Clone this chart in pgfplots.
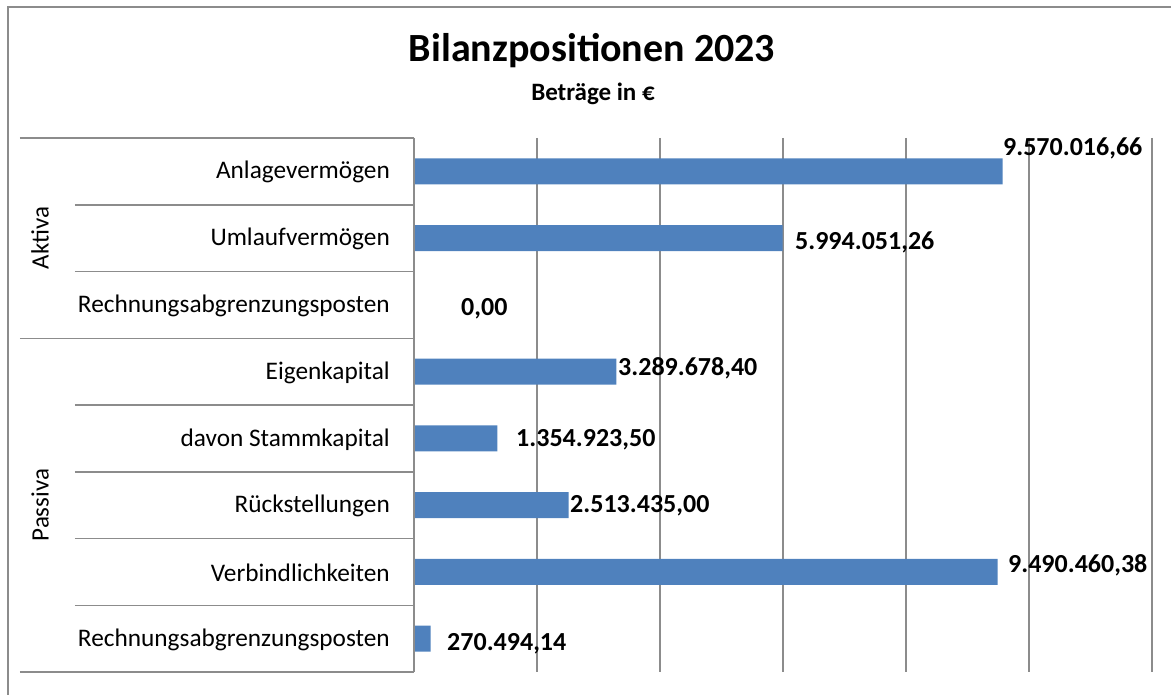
\documentclass[border=0pt]{standalone}
\usepackage{fontspec}
\setmainfont{Carlito}
\usepackage{pgfplots}
\usepackage{pgfplotstable}
\pgfplotsset{compat=1.18}
\definecolor{barblue}{HTML}{4F81BD}
\definecolor{gridgray}{HTML}{8C8C8C}

\pgfplotstableread{
y x
0 9570016.66
1 5994051.26
2 0
3 3289678.40
4 1354923.50
5 2513435.00
6 9490460.38
7 270494.14
}\bars

\pgfplotstableread{
x y label
9577000 -0.34 9.570.016,66
6195000 1.06 5.994.051,26
764000 2.06 0,00
3317000 2.95 3.289.678,40
1659000 4.02 1.354.923,50
2537000 5.01 2.513.435,00
9658000 5.90 9.490.460,38
537000 7.07 270.494,14
}\labels

\begin{document}
\begin{tikzpicture}[x=1pt,y=1pt]
\path[use as bounding box] (0,0) rectangle (1171,695);
\draw[gridgray, line width=1.5pt] (8,0) -- (8,688) -- (1175,688);
\node[font=\fontsize{40}{44}\selectfont\bfseries, anchor=base] at (592,633) {Bilanzpositionen 2023};
\node[font=\fontsize{25}{29}\selectfont\bfseries, anchor=base] at (593,594) {Beträge in €};
\begin{axis}[
  at={(414pt,23pt)}, anchor=south west,
  scale only axis, width=738pt, height=534pt,
  xmin=0, xmax=12000000, ymin=-0.5, ymax=7.5, y dir=reverse,
  enlargelimits=false,
  xtick={0,2000000,4000000,6000000,8000000,10000000,12000000},
  xticklabels={}, scaled x ticks=false,
  ytick={0,1,2,3,4,5,6,7},
  yticklabels={Anlagevermögen, Umlaufvermögen, Rechnungsabgrenzungsposten, Eigenkapital, davon Stammkapital, Rückstellungen, Verbindlichkeiten, Rechnungsabgrenzungsposten},
  yticklabel style={font=\fontsize{25.3}{29}\selectfont, inner sep=0pt, xshift=-24pt, yshift=-1pt},
  major tick length=0pt,
  axis line style={draw=none},
  xmajorgrids, major grid style={gridgray, line width=1.5pt},
  clip=false,
]
\addplot[xbar, bar width=26pt, fill=barblue, draw=none] table[x=x,y=y] {\bars};
\addplot[only marks, mark=*, mark size=0pt, mark options={draw=none,fill=none},
  nodes near coords, point meta=explicit symbolic,
  nodes near coords style={anchor=west, inner sep=0pt, font=\fontsize{26}{30}\selectfont\bfseries}]
  table[x=x,y=y,meta=label] {\labels};
\draw[gridgray, line width=1.5pt] (axis cs:0,-0.5) -- (axis cs:0,7.5);
\draw[gridgray, line width=1.5pt] ([xshift=-394pt]axis cs:0,-0.5) -- (axis cs:0,-0.5);
\draw[gridgray, line width=1.5pt] ([xshift=-394pt]axis cs:0,2.5) -- (axis cs:0,2.5);
\draw[gridgray, line width=1.5pt] ([xshift=-394pt]axis cs:0,7.5) -- (axis cs:0,7.5);
\draw[gridgray, line width=1.5pt] ([xshift=-339pt]axis cs:0,0.5) -- (axis cs:0,0.5);
\draw[gridgray, line width=1.5pt] ([xshift=-339pt]axis cs:0,1.5) -- (axis cs:0,1.5);
\draw[gridgray, line width=1.5pt] ([xshift=-339pt]axis cs:0,3.5) -- (axis cs:0,3.5);
\draw[gridgray, line width=1.5pt] ([xshift=-339pt]axis cs:0,4.5) -- (axis cs:0,4.5);
\draw[gridgray, line width=1.5pt] ([xshift=-339pt]axis cs:0,5.5) -- (axis cs:0,5.5);
\draw[gridgray, line width=1.5pt] ([xshift=-339pt]axis cs:0,6.5) -- (axis cs:0,6.5);
\node[rotate=90, font=\fontsize{25}{29}\selectfont] at ([xshift=-374pt]axis cs:0,1) {Aktiva};
\node[rotate=90, font=\fontsize{25}{29}\selectfont] at ([xshift=-374pt]axis cs:0,5) {Passiva};
\end{axis}
\end{tikzpicture}
\end{document}
